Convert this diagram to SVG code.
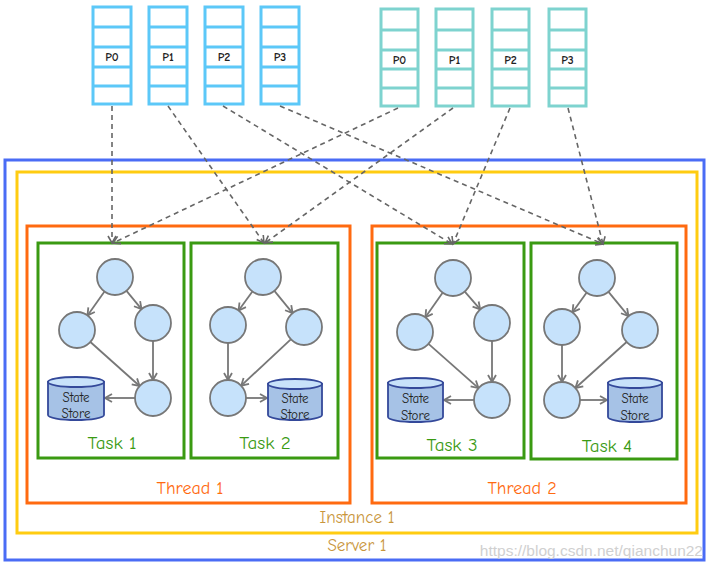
<svg xmlns="http://www.w3.org/2000/svg" width="710" height="568" viewBox="0 0 710 568">
<defs>
<style>
.pl{fill:#fff;stroke:#5CC8F8;stroke-width:3}
.pr{fill:#fff;stroke:#7ED3CF;stroke-width:3}
.pt{font-family:"Comic Sans MS","Comic Neue","Noto Sans",sans-serif;font-size:12px;font-weight:bold;fill:#222;text-anchor:middle}
.lbl{font-family:"Comic Sans MS","Comic Neue","Noto Sans",sans-serif;text-anchor:middle}
.task{fill:#fff;stroke:#3A9A12;stroke-width:3}
.tl{font-size:19px;fill:#3A9A12}
.thl{font-size:18px;fill:#FF6A10}
.gl{font-size:17px;fill:#C9963C}
.c{fill:#C6E2FB;stroke:#777;stroke-width:1.8}
.e{stroke:#777;stroke-width:1.8;fill:none;marker-end:url(#ah)}
.cyl{fill:#A6C2E6;stroke:#34499A;stroke-width:1.8}
.cyt{fill:#C8E2FA;stroke:#34499A;stroke-width:1.8}
.st{font-family:"Comic Sans MS","Comic Neue","Noto Sans",sans-serif;font-size:13px;fill:#222;text-anchor:middle}
.d{stroke:#666;stroke-width:1.6;fill:none;stroke-dasharray:5 4;marker-end:url(#dh)}
</style>
<marker id="ah" markerUnits="userSpaceOnUse" markerWidth="12" markerHeight="12" refX="10" refY="6" orient="auto">
<path d="M3,2 L10,6 L3,10" fill="none" stroke="#777" stroke-width="1.8"/>
</marker>
<marker id="dh" markerUnits="userSpaceOnUse" markerWidth="12" markerHeight="12" refX="10" refY="6" orient="auto">
<path d="M3,2 L10,6 L3,10" fill="none" stroke="#666" stroke-width="1.6"/>
</marker>
</defs>
<rect width="710" height="568" fill="#fff"/>

<g id="server1">
<rect x="5" y="160" width="699" height="400" fill="none" stroke="#4A6CF5" stroke-width="3"/>
<text class="lbl gl" x="357" y="551">Server 1</text>
</g>
<g id="instance1">
<rect x="17" y="172" width="680" height="361" fill="none" stroke="#FFCC11" stroke-width="3"/>
<text class="lbl gl" x="357" y="523">Instance 1</text>
</g>
<g id="thread1">
<rect x="27" y="226" width="323" height="277" fill="none" stroke="#FF6A10" stroke-width="3"/>
<text class="lbl thl" x="190" y="494">Thread 1</text>
</g>
<g id="thread2">
<rect x="372" y="226" width="314" height="277" fill="none" stroke="#FF6A10" stroke-width="3"/>
<text class="lbl thl" x="522" y="494">Thread 2</text>
</g>

<g id="topicA">
<g id="a-p0"><rect class="pl" x="93" y="7" width="38" height="97"/><path d="M93,27H131M93,47H131M93,67H131M93,86H131" stroke="#5CC8F8" stroke-width="3"/><text class="pt" x="112" y="61">P0</text></g>
<g id="a-p1"><rect class="pl" x="149" y="7" width="38" height="97"/><path d="M149,27H187M149,47H187M149,67H187M149,86H187" stroke="#5CC8F8" stroke-width="3"/><text class="pt" x="168" y="61">P1</text></g>
<g id="a-p2"><rect class="pl" x="205" y="7" width="38" height="97"/><path d="M205,27H243M205,47H243M205,67H243M205,86H243" stroke="#5CC8F8" stroke-width="3"/><text class="pt" x="224" y="61">P2</text></g>
<g id="a-p3"><rect class="pl" x="261" y="7" width="38" height="97"/><path d="M261,27H299M261,47H299M261,67H299M261,86H299" stroke="#5CC8F8" stroke-width="3"/><text class="pt" x="280" y="61">P3</text></g>
</g>
<g id="topicB">
<g id="b-p0"><rect class="pr" x="381" y="9" width="37" height="97"/><path d="M381,30H418M381,50H418M381,69H418M381,88H418" stroke="#7ED3CF" stroke-width="3"/><text class="pt" x="399.5" y="64">P0</text></g>
<g id="b-p1"><rect class="pr" x="436" y="9" width="37" height="97"/><path d="M436,30H473M436,50H473M436,69H473M436,88H473" stroke="#7ED3CF" stroke-width="3"/><text class="pt" x="454.5" y="64">P1</text></g>
<g id="b-p2"><rect class="pr" x="492" y="9" width="37" height="97"/><path d="M492,30H529M492,50H529M492,69H529M492,88H529" stroke="#7ED3CF" stroke-width="3"/><text class="pt" x="510.5" y="64">P2</text></g>
<g id="b-p3"><rect class="pr" x="549" y="9" width="37" height="97"/><path d="M549,30H586M549,50H586M549,69H586M549,88H586" stroke="#7ED3CF" stroke-width="3"/><text class="pt" x="567.5" y="64">P3</text></g>
</g>

<g id="task1">
<rect class="task" x="38" y="243" width="146" height="215"/>
<path class="e" d="M104.5,291.6L87.5,315.4"/>
<path class="e" d="M126.5,290.9L141.5,309.1"/>
<path class="e" d="M90.4,342L139.6,386"/>
<path class="e" d="M153,341L153,380"/>
<path class="e" d="M135,398L105,398"/>
<circle class="c" cx="115" cy="277" r="18"/>
<circle class="c" cx="77" cy="330" r="18"/>
<circle class="c" cx="153" cy="323" r="18"/>
<circle class="c" cx="153" cy="398" r="18"/>
<path class="cyl" d="M48,382V415A28,5 0 0 0 104,415V382Z"/>
<ellipse class="cyt" cx="76" cy="382" rx="28" ry="5"/>
<text class="st" x="76" y="402">State</text>
<text class="st" x="76" y="418">Store</text>
<text class="lbl tl" x="112" y="449">Task 1</text>
</g>
<g id="task2">
<rect class="task" x="191" y="243" width="147" height="215"/>
<path class="e" d="M252.4,291.5L238.6,310.5"/>
<path class="e" d="M274.4,290.9L292.6,313.1"/>
<path class="e" d="M228,343L228,380"/>
<path class="e" d="M290.8,339.3L241.2,385.7"/>
<path class="e" d="M246,398L267,398"/>
<circle class="c" cx="263" cy="277" r="18"/>
<circle class="c" cx="228" cy="325" r="18"/>
<circle class="c" cx="304" cy="327" r="18"/>
<circle class="c" cx="228" cy="398" r="18"/>
<path class="cyl" d="M268,384V415A27,5 0 0 0 322,415V384Z"/>
<ellipse class="cyt" cx="295" cy="384" rx="27" ry="5"/>
<text class="st" x="295" y="403">State</text>
<text class="st" x="295" y="419">Store</text>
<text class="lbl tl" x="265" y="449">Task 2</text>
</g>
<g id="task3">
<rect class="task" x="377" y="243" width="147" height="215"/>
<path class="e" d="M442.6,292.7L425.4,317.3"/>
<path class="e" d="M464.8,291.6L480.2,309.4"/>
<path class="e" d="M428.5,343.9L478.5,388.1"/>
<path class="e" d="M492,341L492,382"/>
<path class="e" d="M474,400L444,400"/>
<circle class="c" cx="453" cy="278" r="18"/>
<circle class="c" cx="415" cy="332" r="18"/>
<circle class="c" cx="492" cy="323" r="18"/>
<circle class="c" cx="492" cy="400" r="18"/>
<path class="cyl" d="M388,383V417A27.5,5 0 0 0 443,417V383Z"/>
<ellipse class="cyt" cx="415.5" cy="383" rx="27.5" ry="5"/>
<text class="st" x="415.5" y="403">State</text>
<text class="st" x="415.5" y="420">Store</text>
<text class="lbl tl" x="452" y="451">Task 3</text>
</g>
<g id="task4">
<rect class="task" x="531" y="243" width="146" height="216"/>
<path class="e" d="M586.5,292.7L572.5,312.3"/>
<path class="e" d="M608.5,291.9L628.5,316.1"/>
<path class="e" d="M562,345L562,382"/>
<path class="e" d="M626.6,342L575.4,388"/>
<path class="e" d="M580,400L607,400"/>
<circle class="c" cx="597" cy="278" r="18"/>
<circle class="c" cx="562" cy="327" r="18"/>
<circle class="c" cx="640" cy="330" r="18"/>
<circle class="c" cx="562" cy="400" r="18"/>
<path class="cyl" d="M608,383V417A27,5 0 0 0 662,417V383Z"/>
<ellipse class="cyt" cx="635" cy="383" rx="27" ry="5"/>
<text class="st" x="635" y="403">State</text>
<text class="st" x="635" y="420">Store</text>
<text class="lbl tl" x="607" y="452">Task 4</text>
</g>

<g id="connectors">
<path class="d" d="M112,106L112,243"/>
<path class="d" d="M168,106L264,243"/>
<path class="d" d="M223,106L452,244"/>
<path class="d" d="M280,106L603,244"/>
<path class="d" d="M398,108L113,243"/>
<path class="d" d="M453,108L265,243"/>
<path class="d" d="M510,108L453,244"/>
<path class="d" d="M568,108L603,244"/>
</g>

<text x="703" y="556" font-family="Liberation Sans, sans-serif" font-size="15.5" fill="#d0d0d0" text-anchor="end">https://blog.csdn.net/qianchun22</text>
</svg>
